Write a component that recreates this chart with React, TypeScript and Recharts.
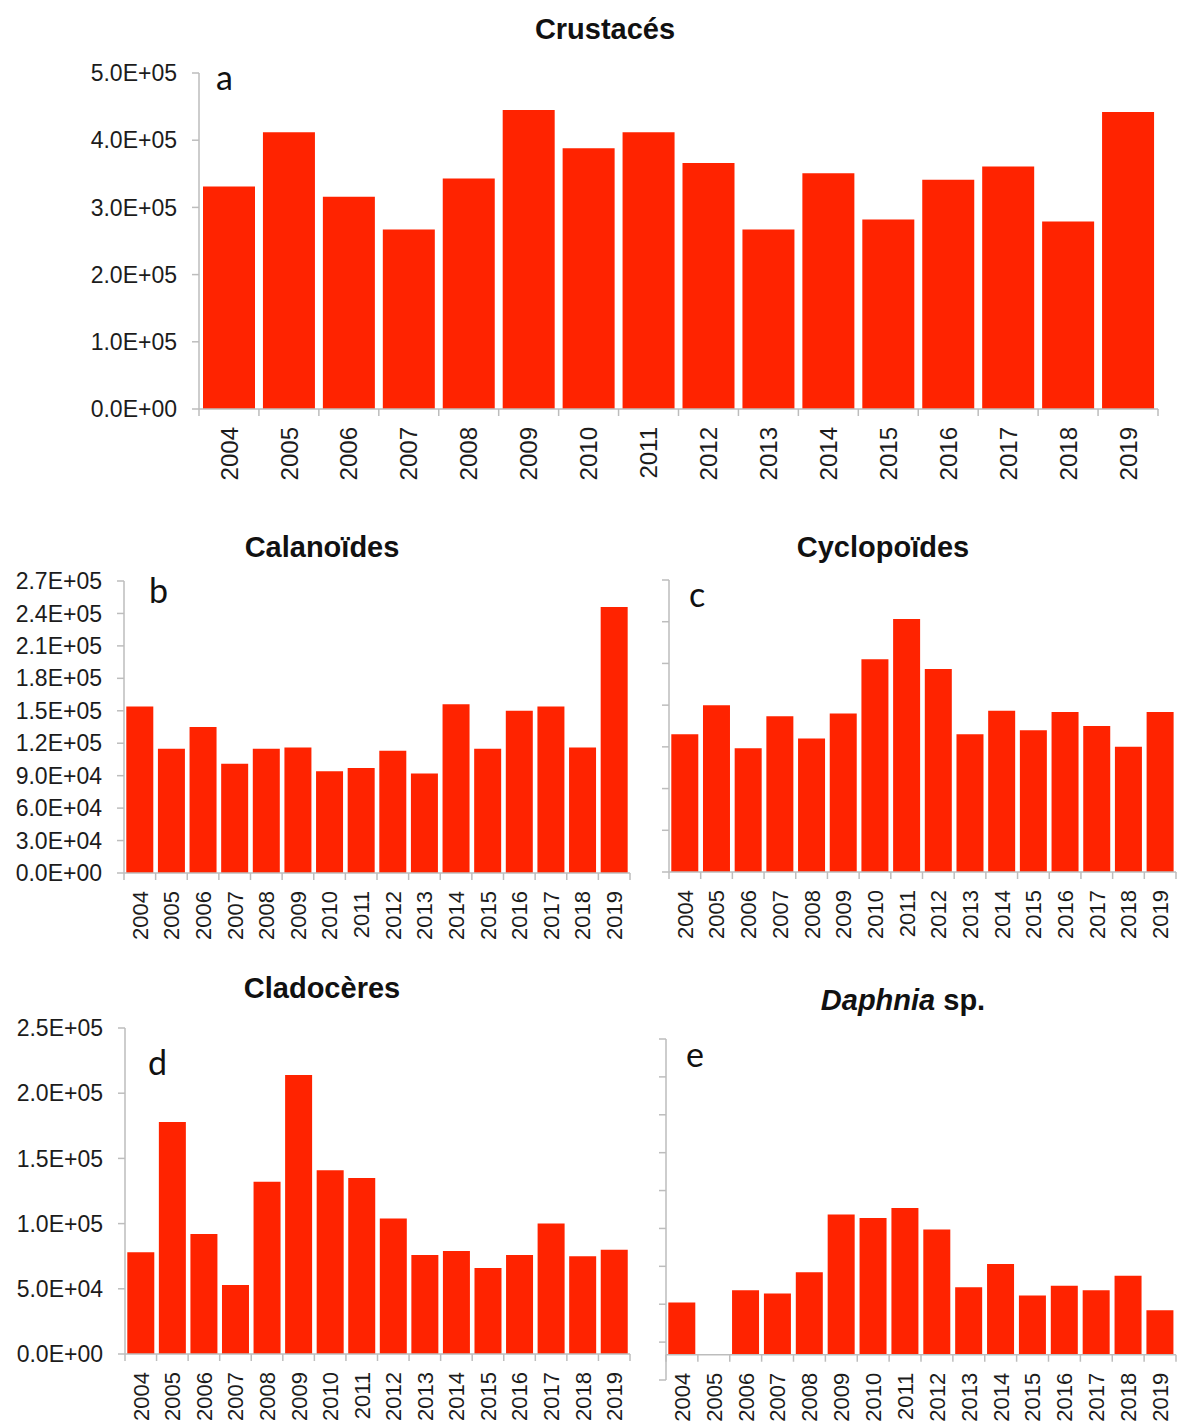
import React from 'react';
import { BarChart, Bar, XAxis, YAxis, ReferenceLine } from 'recharts';

const years = ['2004', '2005', '2006', '2007', '2008', '2009', '2010', '2011', '2012', '2013', '2014', '2015', '2016', '2017', '2018', '2019'];

const crustaces = [331000, 412000, 316000, 267000, 343000, 445000, 388000, 412000, 366000, 267000, 351000, 282000, 341000, 361000, 279000, 442000];
const calanoides = [154000, 115000, 135000, 101000, 115000, 116000, 94000, 97000, 113000, 92000, 156000, 115000, 150000, 154000, 116000, 246000];
const cyclopoides = [99000, 120000, 89000, 112000, 96000, 114000, 153000, 182000, 146000, 99000, 116000, 102000, 115000, 105000, 90000, 115000];
const cladoceres = [78000, 178000, 92000, 53000, 132000, 214000, 141000, 135000, 104000, 76000, 79000, 66000, 76000, 100000, 75000, 80000];
const daphnia = [20700, 0, 25500, 24200, 32700, 55500, 54100, 58100, 49600, 26700, 35900, 23500, 27300, 25500, 31300, 17600];

const ticksA = [0, 100000, 200000, 300000, 400000, 500000];
const ticksB = [0, 30000, 60000, 90000, 120000, 150000, 180000, 210000, 240000, 270000];
const ticksC = [0, 30000, 60000, 90000, 120000, 150000, 180000, 210000];
const ticksD = [0, 50000, 100000, 150000, 200000, 250000];
const ticksE = [-10000, 5000, 20000, 35000, 50000, 65000, 80000, 95000, 110000, 125000];

const RED = '#FF2300';
const AXIS = '#BDBDBD';
const INK = '#1c1c1c';
const FONT = '"Liberation Sans", Arial, Helvetica, sans-serif';

// Excel-style scientific labels: 5.0E+05
const sci = (v: number) => {
  const [m, e] = v.toExponential(1).split('e');
  const n = parseInt(e, 10);
  return `${m}E${n < 0 ? '-' : '+'}${String(Math.abs(n)).padStart(2, '0')}`;
};

function YearTick(props: any) {
  const { x, y, payload, index, fontSize, lift, half, count } = props;
  const h = typeof payload?.offset === 'number' && payload.offset > 0 ? payload.offset : half;
  const y0 = y - lift;
  return (
    <g>
      <line x1={x - h} x2={x - h} y1={y0} y2={y0 + 7} stroke={AXIS} strokeWidth={1.5} />
      {index === count - 1 && <line x1={x + h} x2={x + h} y1={y0} y2={y0 + 7} stroke={AXIS} strokeWidth={1.5} />}
      <text
        transform={`translate(${x + fontSize * 0.36},${y0 + 18}) rotate(-90)`}
        textAnchor="end"
        fontSize={fontSize}
        fill={INK}
        fontFamily={FONT}
      >
        {payload.value}
      </text>
    </g>
  );
}

interface PanelProps {
  values: number[];
  left: number;
  top: number;
  width: number;
  height: number;
  plotLeft: number;
  plotRight: number;
  plotTop: number;
  plotBottom: number;
  domain: [number, number];
  ticks: number[];
  labels: boolean;
  yFont: number;
  xFont: number;
  gap: number;
}

function Panel({ values, left, top, width, height, plotLeft, plotRight, plotTop, plotBottom, domain, ticks, labels, yFont, xFont, gap }: PanelProps) {
  const data = years.map((year, i) => ({ year, value: values[i] }));
  const lift = ((plotBottom - plotTop) * (0 - domain[0])) / (domain[1] - domain[0]);
  const half = (plotRight - plotLeft) / years.length / 2;
  return (
    <div style={{ position: 'absolute', left, top, width, height }}>
      <BarChart
        width={width}
        height={height}
        data={data}
        barCategoryGap={gap}
        margin={{ top: plotTop - top, right: left + width - plotRight, bottom: 0, left: 0 }}
      >
        <XAxis
          dataKey="year"
          interval={0}
          height={top + height - plotBottom}
          axisLine={domain[0] === 0 ? { stroke: AXIS, strokeWidth: 1.5 } : false}
          tickLine={false}
          tickSize={0}
          tickMargin={0}
          tick={(p: any) => <YearTick {...p} fontSize={xFont} lift={lift} half={half} count={years.length} />}
        />
        <YAxis
          width={plotLeft - left}
          domain={domain}
          ticks={ticks}
          interval={0}
          axisLine={{ stroke: AXIS, strokeWidth: 1.5 }}
          tickLine={{ stroke: AXIS, strokeWidth: 1.5 }}
          tickSize={7}
          tickMargin={15}
          tickFormatter={labels ? sci : () => ''}
          tick={{ fill: INK, fontSize: yFont, fontFamily: FONT }}
        />
        {domain[0] < 0 && <ReferenceLine y={0} stroke={AXIS} strokeWidth={1.5} />}
        <Bar dataKey="value" fill={RED} isAnimationActive={false} />
      </BarChart>
    </div>
  );
}

export default function App() {
  return (
    <div style={{ position: 'absolute', left: 0, top: 0, width: 1177, height: 1425, background: '#fff', overflow: 'hidden' }}>
      <Panel values={crustaces} left={0} top={0} width={1177} height={500}
        plotLeft={199} plotRight={1158} plotTop={73} plotBottom={409}
        domain={[0, 500000]} ticks={ticksA} labels yFont={23} xFont={24} gap={4} />
      <Panel values={calanoides} left={0} top={540} width={640} height={420}
        plotLeft={124} plotRight={630} plotTop={581} plotBottom={873}
        domain={[0, 270000]} ticks={ticksB} labels yFont={23} xFont={22} gap={2.3} />
      <Panel values={cyclopoides} left={640} top={540} width={537} height={420}
        plotLeft={669} plotRight={1176} plotTop={580} plotBottom={872}
        domain={[0, 210000]} ticks={ticksC} labels={false} yFont={23} xFont={22} gap={2.3} />
      <Panel values={cladoceres} left={0} top={980} width={640} height={445}
        plotLeft={125} plotRight={630} plotTop={1028} plotBottom={1354}
        domain={[0, 250000]} ticks={ticksD} labels yFont={23} xFont={22} gap={2.3} />
      <Panel values={daphnia} left={640} top={980} width={537} height={445}
        plotLeft={666} plotRight={1176} plotTop={1039} plotBottom={1380}
        domain={[-10000, 125000]} ticks={ticksE} labels={false} yFont={23} xFont={22} gap={2.3} />

      <svg width={1177} height={1425} style={{ position: 'absolute', left: 0, top: 0, pointerEvents: 'none' }}>
        <g fontFamily={FONT} fontWeight="bold" fontSize={29} fill="#111" textAnchor="middle">
          <text x={605} y={39}>Crustacés</text>
          <text x={322} y={557}>Calanoïdes</text>
          <text x={883} y={557}>Cyclopoïdes</text>
          <text x={322} y={998}>Cladocères</text>
          <text x={903} y={1010}>
            <tspan fontStyle="italic">Daphnia</tspan> sp.
          </text>
        </g>
        <g fontFamily="Lato, 'Open Sans', sans-serif" fontSize={34} fill="#111">
          <text x={216} y={90}>a</text>
          <text x={149} y={603}>b</text>
          <text x={689} y={607}>c</text>
          <text x={148} y={1075}>d</text>
          <text x={686} y={1067}>e</text>
        </g>
      </svg>
    </div>
  );
}
